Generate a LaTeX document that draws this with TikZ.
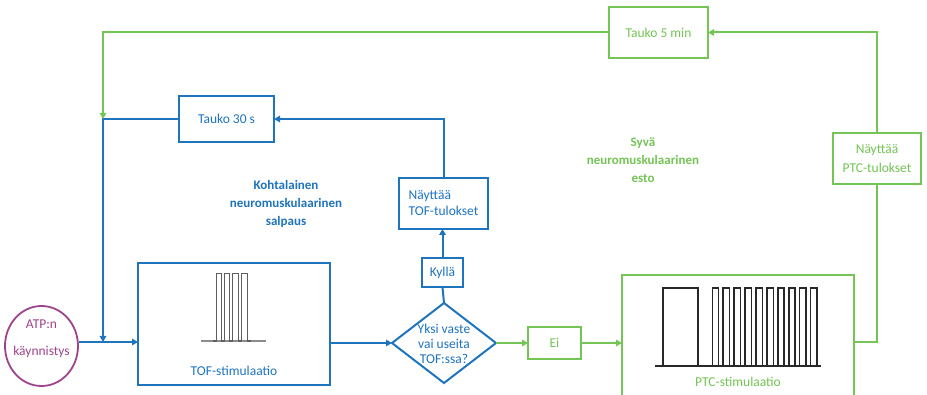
\documentclass[tikz,border=0pt]{standalone}
\usepackage{fontspec}
\setmainfont{Carlito}
\usetikzlibrary{arrows.meta,shapes.geometric}
\definecolor{cblue}{RGB}{31,116,190}
\definecolor{cgreen}{RGB}{116,196,86}
\definecolor{cpurple}{RGB}{158,68,140}
\definecolor{cpulse}{RGB}{40,40,40}
\definecolor{ctof}{RGB}{95,95,95}
\definecolor{cbase}{RGB}{140,140,140}
\begin{document}
\begin{tikzpicture}[x=1pt,y=-1pt,
  bbox/.style={draw=cblue,line width=2pt,text=cblue,font=\fontsize{13.5}{16}\selectfont,inner sep=0pt,outer sep=0pt},
  gbox/.style={draw=cgreen,line width=2pt,text=cgreen,font=\fontsize{13.5}{16}\selectfont,inner sep=0pt,outer sep=0pt},
  bline/.style={draw=cblue,line width=2pt},
  gline/.style={draw=cgreen,line width=2pt},
  barr/.style={bline,-{Triangle[length=6pt,width=6.5pt]}},
  garr/.style={gline,-{Triangle[length=6pt,width=6.5pt]}},
  pulse/.style={draw=cpulse,line width=1.5pt,line join=miter},
  tofpulse/.style={draw=ctof,line width=1.3pt,line join=miter},
  heading/.style={font=\fontsize{13}{18}\bfseries\selectfont,align=center,inner sep=0pt},
]
\clip (0,0) rectangle (927,395);
\fill[white] (0,0) rectangle (927,395);

% nodes
\node[ellipse,draw=cpurple,line width=1.8pt,minimum width=73,minimum height=80,inner sep=0pt] (atp) at (41.5,346) {};
\node[text=cpurple,font=\fontsize{13.5}{27}\selectfont,align=center,inner sep=0pt] (atpt) at (41.5,338.5) {ATP:n\\käynnistys};

\node[bbox,minimum width=192,minimum height=122] (tof) at (234,324) {};
\node[text=cblue,font=\fontsize{13.5}{16}\selectfont,inner sep=0pt] (toft) at (234,371) {TOF-stimulaatio};

\node[bbox,minimum width=95,minimum height=46] (t30) at (226.5,119) {Tauko 30 s};
\node[bbox,minimum width=89,minimum height=51,align=left,font=\fontsize{13.5}{16}\selectfont] (ntof) at (443.5,203.5) {Näyttää\\TOF-tulokset};
\node[bbox,minimum width=41,minimum height=29] (kylla) at (442.5,272.5) {Kyllä};
\node[diamond,draw=cblue,line width=2pt,minimum width=104,minimum height=80,inner sep=0pt,outer sep=0pt] (d) at (444,343) {};
\node[text=cblue,font=\fontsize{13.5}{15}\selectfont,align=center,inner sep=0pt] (dt) at (444,344) {Yksi vaste\\vai useita\\TOF:ssa?};

\node[gbox,minimum width=53,minimum height=32] (ei) at (554.5,343) {Ei};
\node[gbox,minimum width=232,minimum height=130] (ptc) at (738,340) {};
\node[text=cgreen,font=\fontsize{13.5}{16}\selectfont,inner sep=0pt] (ptct) at (738,382) {PTC-stimulaatio};
\node[gbox,minimum width=88,minimum height=51,align=center,font=\fontsize{13.5}{19}\selectfont] (nptc) at (877,158.5) {Näyttää\\PTC-tulokset};
\node[gbox,minimum width=99,minimum height=51] (t5) at (658.5,32.5) {Tauko 5 min};

\node[heading,text=cblue] (kohta) at (286,203.5) {Kohtalainen\\neuromuskulaarinen\\salpaus};
\node[heading,text=cgreen] (syva) at (643,160.5) {Syvä\\neuromuskulaarinen\\esto};

% junction coordinates
\coordinate (j) at (103,342);
\coordinate (gj) at (t30.west -| j);

% connectors
\draw[barr] (atp.east |- j) -- (j -| tof.west);
\draw[barr] (t30.west) -| (j);
\draw[garr] (t5.west) -| (gj);
\draw[barr] (d.west -| tof.east) -- (d.west);
\draw[bline] (d.north) -- (kylla.south);
\draw[barr] (kylla.north) -- (kylla.north |- ntof.south);
\draw[barr] (ntof.north) |- (t30.east);
\draw[garr] (d.east) -- (ei.west);
\draw[garr] (ei.east) -- (ei.east -| ptc.west);
\draw[gline] (ptc.east |- j) -| (nptc.south);
\draw[garr] (nptc.north) |- (t5.east);

% TOF pulses
\draw[cbase,line width=1.4pt] (201,341) -- (266,341);
\draw[tofpulse] (213,341) -- (216.3,341) -- (216.3,273.5) -- (221.7,273.5) -- (221.7,341) -- (224.3,341)
  -- (224.3,273.5) -- (229.8,273.5) -- (229.8,341) -- (232.5,341)
  -- (232.5,273.5) -- (238.5,273.5) -- (238.5,341) -- (241.8,341)
  -- (241.8,273.5) -- (247.8,273.5) -- (247.8,341) -- (251,341);

% PTC pulses
\draw[pulse] (655,366) -- (821,366);
\draw[pulse] (663,366) -- (663,288) -- (698,288) -- (698,366);
\foreach \i in {0,...,9}{
  \draw[pulse] ({712.3+10.93*\i},366) -- ({712.3+10.93*\i},288) -- ({718.6+10.93*\i},288) -- ({718.6+10.93*\i},366);
}
\end{tikzpicture}
\end{document}
